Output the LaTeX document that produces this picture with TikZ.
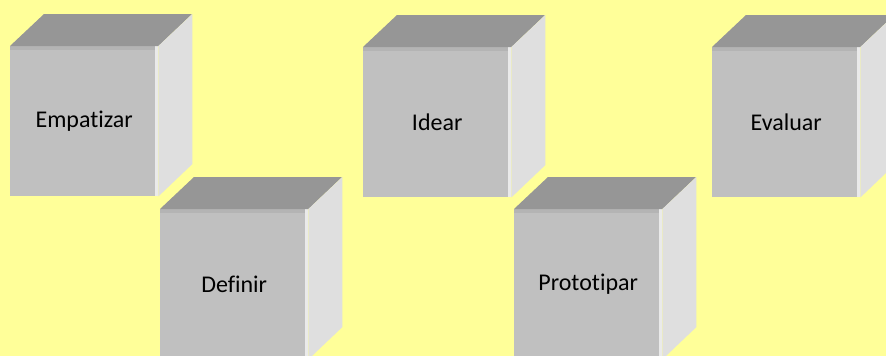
\documentclass[tikz,border=0pt]{standalone}
\usepackage{fontspec}
\setmainfont[Ligatures=NoCommon]{Carlito}
\definecolor{paper}{HTML}{FFFF99}
\definecolor{cubefront}{HTML}{C0C0C0}
\definecolor{cubeband}{HTML}{B4B4B4}
\definecolor{cubetop}{HTML}{969696}
\definecolor{cubeside}{HTML}{DFDFDF}
\definecolor{cubeedge}{HTML}{EAEAEA}

\begin{document}
\begin{tikzpicture}[x=1pt,y=-1pt,
  face/.style={fill=cubefront, anchor=north west, inner sep=0pt,
    minimum width=148pt, minimum height=150pt, font=\fontsize{24}{29}\selectfont}]
  \fill[paper] (0,0) rectangle (886,356);
  \useasboundingbox (0,0) rectangle (886,356);

  \foreach \name/\x/\y/\word in {empatizar/10/46/Empatizar, definir/160/209/Definir,
      idear/363/47/Idear, prototipar/514/209/Prototipar, evaluar/712/47/Evaluar} {
    \node[face] (\name) at (\x,\y) {\word};
    \fill[cubeband] (\name.north west) rectangle ([yshift=-4pt]\name.north east);
    \fill[cubeedge] ([xshift=-3pt]\name.north east) rectangle (\name.south east);
    \fill[cubetop] (\name.north west) -- ++(34,-32) -- ++(148,0) -- (\name.north east) -- cycle;
    \fill[cubeside] (\name.north east) -- ++(34,-32) -- ++(0,150) -- (\name.south east) -- cycle;
  }
\end{tikzpicture}
\end{document}
